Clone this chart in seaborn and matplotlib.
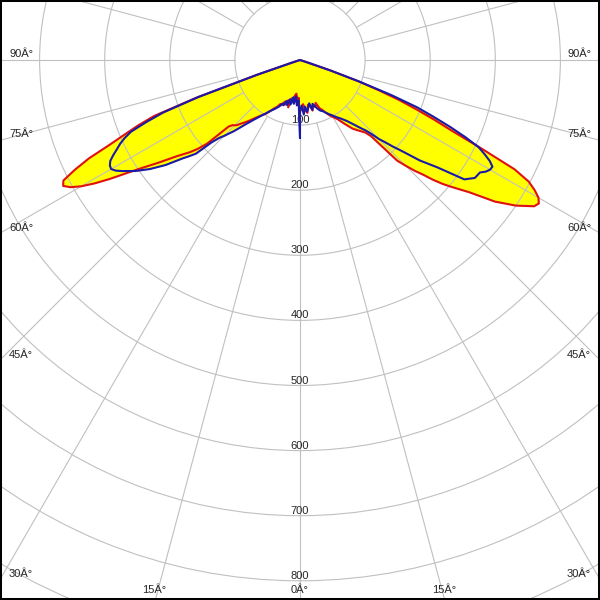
import numpy as np
import matplotlib
matplotlib.use("Agg")
import matplotlib.pyplot as plt
import seaborn as sns

# gamma angles (deg from nadir) and intensities (cd) for the two C-planes
gamma = [0, 2, 4, 6, 8, 10, 12, 14, 16, 18, 20, 22, 24, 26, 28, 30, 32.5, 35, 37.5, 40,
         42, 43, 44, 45, 46, 47, 48, 49, 50, 52, 54, 56, 58, 59, 60, 61, 62, 63, 64, 65,
         66, 67, 68, 69, 70, 71, 72, 73, 90]

red_left = [95, 58, 62, 52, 55, 66, 60, 75, 64, 72, 68, 75, 74, 80, 84, 90, 98, 104, 112, 122,
            130, 134, 139, 142, 144, 150, 192, 208, 220, 240, 268, 300, 345, 368, 388, 403, 412, 408, 385, 358,
            320, 292, 268, 240, 170, 70, 10, 0, 0]
red_right = [80, 74, 68, 78, 82, 70, 72, 80, 72, 76, 70, 80, 84, 90, 96, 101, 108, 120, 133, 142,
             150, 160, 215, 230, 245, 258, 275, 290, 303, 330, 370, 400, 424, 428, 423, 412, 398, 370, 310, 258,
             226, 195, 165, 130, 95, 50, 10, 0, 0]
blue_left = [120, 62, 70, 56, 68, 58, 70, 62, 72, 66, 74, 72, 78, 82, 86, 90, 97, 105, 115, 128,
             142, 150, 157, 165, 172, 185, 215, 225, 235, 262, 285, 305, 322, 330, 335, 334, 330, 322, 313, 305,
             295, 282, 255, 225, 165, 70, 10, 0, 0]
blue_right = [78, 70, 84, 72, 80, 74, 68, 79, 70, 75, 80, 84, 86, 90, 94, 98, 104, 110, 118, 130,
              142, 148, 158, 172, 182, 195, 207, 222, 240, 268, 312, 324, 326, 333, 337, 338, 330, 318, 305, 280,
              252, 222, 194, 150, 97, 50, 10, 0, 0]

ring_values = [100, 200, 300, 400, 500, 600, 700, 800]
angle_text = "\u00c2\u00b0"  # the chart shows the degree sign as "Â°"

sns.set_style("white")
plt.rcParams['font.family'] = ['Liberation Sans', 'DejaVu Sans']

GRID = '#c0c0c0'
RMAX = 1000
W = 600
px_per_cd = 0.651
cx, cy = 300, 60  # pole position in pixels (from top-left)
rad_px = RMAX * px_per_cd

fig = plt.figure(figsize=(6, 6), dpi=100)
fig.patch.set_facecolor('white')
ax = fig.add_axes([(cx - rad_px) / W, (W - cy - rad_px) / W, 2 * rad_px / W, 2 * rad_px / W],
                  projection='polar')
ax.set_theta_zero_location('S')
ax.set_facecolor('white')

g = np.deg2rad(np.array(gamma))


def plane(left, right):
    th = np.concatenate([-g[::-1], g])
    r = np.concatenate([np.array(left)[::-1], np.array(right)])
    return th, r


th_red, r_red = plane(red_left, red_right)
th_blue, r_blue = plane(blue_left, blue_right)

# yellow area
ax.fill(th_red, r_red, color='#ffff00', lw=0, zorder=1)
ax.fill(th_blue, r_blue, color='#ffff00', lw=0, zorder=1)

# radial lines from the first ring outwards
for a in np.arange(0, 360, 15):
    ax.plot([np.deg2rad(a)] * 2, [100, RMAX], color=GRID, lw=0.8, zorder=2.5)

sns.lineplot(x=th_red, y=r_red, ax=ax, sort=False, estimator=None, color='#e01010', lw=1.5, zorder=3)
sns.lineplot(x=th_blue, y=r_blue, ax=ax, sort=False, estimator=None, color='#1a1aa8', lw=1.5, zorder=3.1)

ax.set_ylim(0, RMAX)
ax.set_yticks(list(range(100, 1000, 100)))
ax.set_yticklabels([])
ax.set_xticks([])
ax.set_axisbelow(False)
ax.yaxis.grid(True, color=GRID, lw=0.8)
ax.spines['polar'].set_visible(False)
ax.set_xlabel('')
ax.set_ylabel('')

for k in ring_values:
    ax.text(0, k - 3, str(k), ha='center', va='baseline', fontsize=8, zorder=2.8)

# angle labels along the picture border
left_labels = [(90, 57), (75, 137), (60, 231), (45, 358), (30, 577)]
for a, yb in left_labels:
    fig.text(9 / W, 1 - yb / W, f"{a}{angle_text}", ha='left', va='baseline', fontsize=8)
    fig.text(591 / W, 1 - yb / W, f"{a}{angle_text}", ha='right', va='baseline', fontsize=8)
for a, xc in [(15, 154), (0, 300), (15, 444)]:
    fig.text(xc / W, 1 - 593 / W, f"{a}{angle_text}", ha='center', va='baseline', fontsize=8)

fig.add_artist(plt.Rectangle((0, 0), 1, 1, transform=fig.transFigure, fill=False,
                             edgecolor='black', lw=2.9))

fig.savefig('out.png', dpi=100)
